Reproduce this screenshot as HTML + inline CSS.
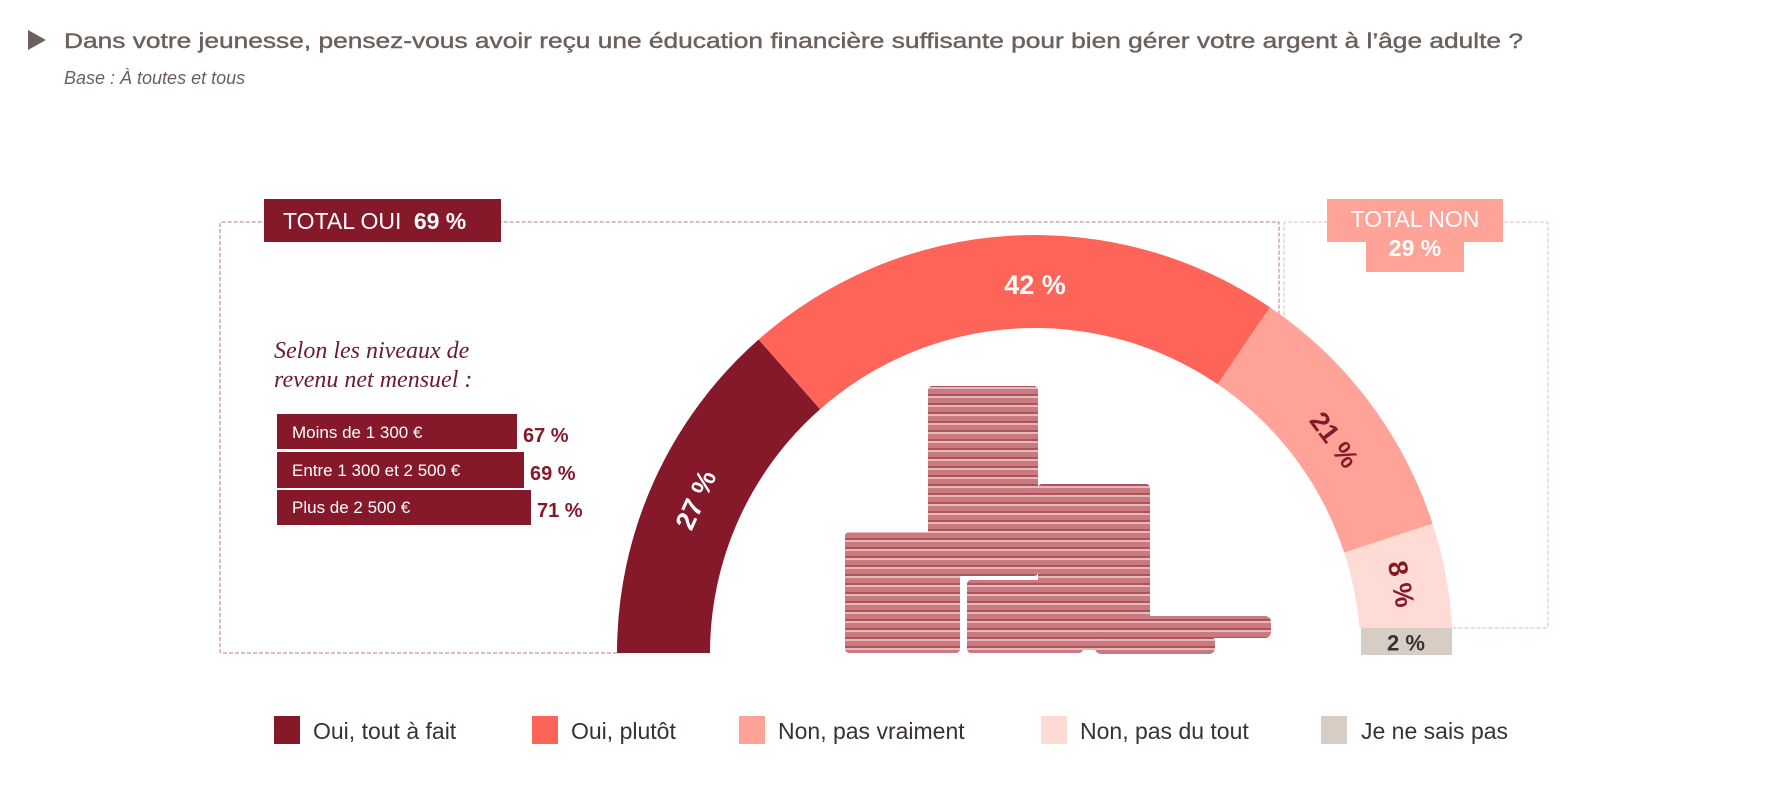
<!DOCTYPE html>
<html><head><meta charset="utf-8"><style>
body{margin:0;background:#fff;}
svg{display:block;font-family:"Liberation Sans",sans-serif;}
</style></head><body>
<svg width="1780" height="810" viewBox="0 0 1780 810" xmlns="http://www.w3.org/2000/svg">
<defs>
<pattern id="coin" width="8" height="9" patternUnits="userSpaceOnUse">
<rect width="8" height="9" fill="#c97a80"/>
<rect y="0" width="8" height="2" fill="#e6b8b9"/>
<rect y="7" width="8" height="2" fill="#b0525c"/>
</pattern>
</defs>
<polygon points="28,30 46,40 28,50" fill="#6b605c"/>
<text x="64" y="48" font-size="21" fill="#6b605c" stroke="#6b605c" stroke-width="0.4" textLength="1459" lengthAdjust="spacingAndGlyphs">Dans votre jeunesse, pensez-vous avoir reçu une éducation financière suffisante pour bien gérer votre argent à l’âge adulte ?</text>
<text x="64" y="84" font-size="18" fill="#6b605c" font-style="italic">Base : À toutes et tous</text>

<path d="M617,653 L222,653 Q220,653 220,651 L220,224 Q220,222 222,222 L1279,222 L1279,345" fill="none" stroke="#b57a85" stroke-width="1" stroke-dasharray="4,2"/>
<path d="M1284,345 L1284,224 Q1284,222 1286,222 L1546,222 Q1548,222 1548,224 L1548,626 Q1548,628 1546,628 L1452,628" fill="none" stroke="#e4b9bf" stroke-width="1" stroke-dasharray="4,2"/>

<rect x="264" y="199" width="237" height="43" fill="#85192a"/>
<text x="283" y="229" font-size="23" fill="#fff">TOTAL OUI <tspan font-weight="bold" dx="6">69 %</tspan></text>
<rect x="1327" y="199" width="176" height="43" fill="#ffa399"/>
<rect x="1366" y="242" width="98" height="30" fill="#ffa399"/>
<text x="1415" y="227" font-size="23" fill="#fff" text-anchor="middle">TOTAL NON</text>
<text x="1415" y="256" font-size="23" fill="#fff" text-anchor="middle" font-weight="bold">29 %</text>

<text x="274" y="358" font-size="24" fill="#6b1a33" font-style="italic" font-family="Liberation Serif,serif">Selon les niveaux de</text>
<text x="274" y="387" font-size="24" fill="#6b1a33" font-style="italic" font-family="Liberation Serif,serif">revenu net mensuel :</text>
<rect x="277" y="414" width="240" height="35" fill="#85192a"/>
<rect x="277" y="452" width="247" height="36" fill="#85192a"/>
<rect x="277" y="490" width="254" height="35" fill="#85192a"/>
<g font-size="17" fill="#fff">
<text x="292" y="438">Moins de 1 300 €</text>
<text x="292" y="476">Entre 1 300 et 2 500 €</text>
<text x="292" y="513">Plus de 2 500 €</text>
</g>
<g font-size="20" fill="#85192a" font-weight="bold">
<text x="523" y="442">67 %</text>
<text x="530" y="480">69 %</text>
<text x="537" y="517">71 %</text>
</g>

<path d="M617,653 A418,418 0 0 1 758.6,339.5 L820.1,409.2 A325,325 0 0 0 710,653 Z" fill="#85192a"/>
<path d="M758.6,339.5 A418,418 0 0 1 1270,307.3 L1217.7,384.2 A325,325 0 0 0 820.1,409.2 Z" fill="#ff6459"/>
<path d="M1270,307.3 A418,418 0 0 1 1432.6,523.8 L1344.1,552.6 A325,325 0 0 0 1217.7,384.2 Z" fill="#ffa399"/>
<path d="M1432.6,523.8 A418,418 0 0 1 1452.2,628 L1359.4,628 A325,325 0 0 0 1344.1,552.6 Z" fill="#ffdbd6"/>
<rect x="1361" y="628" width="91" height="27" fill="#d8cdc4"/>

<rect x="928" y="386" width="110" height="190" rx="4" fill="url(#coin)"/>
<rect x="1038" y="484" width="112" height="166" rx="4" fill="url(#coin)"/>
<rect x="845" y="532" width="115" height="121" rx="4" fill="url(#coin)"/>
<rect x="967" y="580" width="116" height="73" rx="4" fill="url(#coin)"/>
<rect x="1130" y="616" width="141" height="22" rx="6" fill="url(#coin)"/>
<rect x="1095" y="636" width="120" height="18" rx="6" fill="url(#coin)"/>

<g font-size="27" font-weight="bold" text-anchor="middle" dominant-baseline="central">
<text x="1035" y="285" fill="#fff">42 %</text>
<text transform="translate(696,500) rotate(-65.7)" fill="#fff">27 %</text>
<text transform="translate(1334,440) rotate(53.1)" fill="#85192a">21 %</text>
<text transform="translate(1401,584) rotate(79.2)" fill="#85192a">8 %</text>
<text x="1406" y="643" font-size="22" fill="#333">2 %</text>
</g>

<g font-size="23" fill="#3b3030">
<rect x="274" y="716" width="26" height="28" fill="#85192a"/><text x="313" y="739">Oui, tout à fait</text>
<rect x="532" y="716" width="26" height="28" fill="#ff6459"/><text x="571" y="739">Oui, plutôt</text>
<rect x="739" y="716" width="26" height="28" fill="#ffa399"/><text x="778" y="739">Non, pas vraiment</text>
<rect x="1041" y="716" width="26" height="28" fill="#ffdbd6"/><text x="1080" y="739">Non, pas du tout</text>
<rect x="1321" y="716" width="26" height="28" fill="#d8cdc4"/><text x="1361" y="739">Je ne sais pas</text>
</g>
</svg>
</body></html>
